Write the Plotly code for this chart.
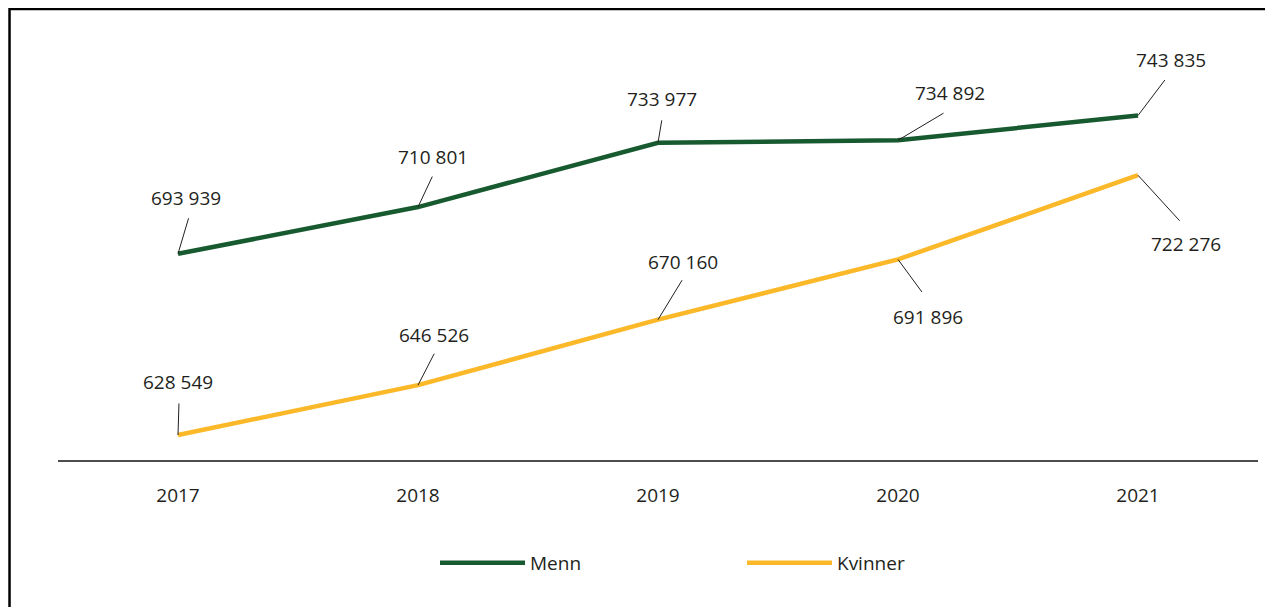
import plotly.graph_objects as go

years = ["2017", "2018", "2019", "2020", "2021"]
menn = [693939, 710801, 733977, 734892, 743835]
kvinner = [628549, 646526, 670160, 691896, 722276]

GREEN = "#185a30"
YELLOW = "#fbb829"
TEXT = "#231f20"
FONT = "Open Sans"
FS = 19

# label layout offsets (pixels, +y = down): text centre offset and leader-line end offset
menn_text_off = [(8, -56), (15, -50), (4, -44), (52, -47), (33, -56)]
menn_line_off = [(11, -37), (15, -32), (4, -24), (47, -28), (28, -37)]
kv_text_off = [(0, -53), (16, -50), (25, -58), (30, 58), (48, 69)]
kv_line_off = [(1, -33), (17, -33), (25, -41), (25, 34), (43, 47)]


def fmt(v):
    return f"{v:,}".replace(",", " ")


fig = go.Figure()
fig.add_trace(go.Scatter(x=years, y=menn, name="Menn", mode="lines",
                         line=dict(color=GREEN, width=4.5)))
fig.add_trace(go.Scatter(x=years, y=kvinner, name="Kvinner", mode="lines",
                         line=dict(color=YELLOW, width=4.5)))

annotations = []
shapes = []
for series, toff, loff in [(menn, menn_text_off, menn_line_off),
                           (kvinner, kv_text_off, kv_line_off)]:
    for i, (v, (tx, ty), (lx, ly)) in enumerate(zip(series, toff, loff)):
        # category axis: position by category index
        annotations.append(dict(x=i, y=v, xref="x", yref="y", text="",
                                showarrow=True, arrowhead=0, arrowwidth=1,
                                arrowcolor=TEXT, ax=lx, ay=ly, standoff=0))
        annotations.append(dict(x=i, y=v, xref="x", yref="y", text=fmt(v),
                                showarrow=False, xshift=tx, yshift=-ty,
                                font=dict(family=FONT, size=FS, color=TEXT)))

# page frame
shapes.append(dict(type="path", xref="paper", yref="paper",
                   path="M -0.0404,-0.45 L -0.0404,1.0488 L 1.05,1.0488",
                   line=dict(color="black", width=2.5)))

fig.update_layout(
    width=1265, height=599,
    margin=dict(l=50, r=15, t=22, b=147),
    paper_bgcolor="white", plot_bgcolor="white",
    font=dict(family=FONT, size=FS, color=TEXT),
    annotations=annotations,
    shapes=shapes,
    showlegend=True,
    legend=dict(orientation="h", x=(435 - 58) / 1200, xanchor="left",
                y=(460 - 563) / 430, yanchor="middle",
                itemwidth=85, entrywidth=207, entrywidthmode="pixels",
                font=dict(family=FONT, size=FS, color=TEXT)),
    xaxis=dict(type="category", range=[-0.5, 4.5], showgrid=False,
               showline=True, linecolor="#4d4d4d", linewidth=1.5,
               ticks="", ticklabelstandoff=17, zeroline=False,
               tickfont=dict(family=FONT, size=FS, color=TEXT)),
    yaxis=dict(range=[619528, 774684], showgrid=False, showline=False,
               showticklabels=False, zeroline=False, ticks=""),
)

fig.write_html("out.html")
